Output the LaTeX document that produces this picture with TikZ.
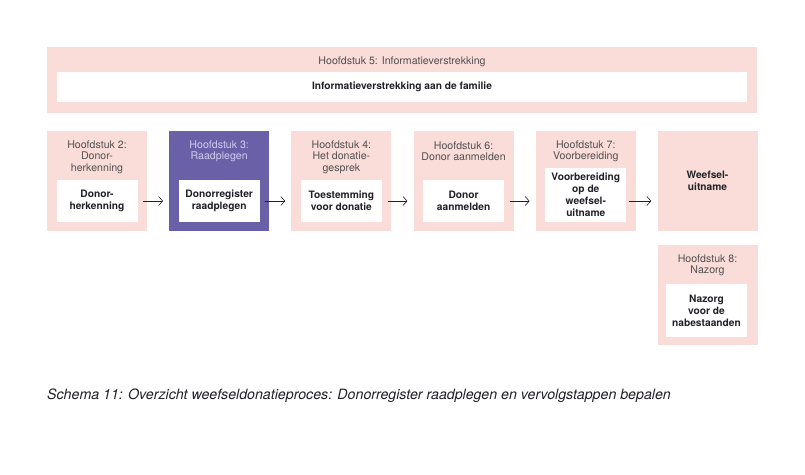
\documentclass[tikz,border=0pt]{standalone}
\usepackage{fontspec}
\setmainfont{TeX Gyre Heros}
\usetikzlibrary{arrows.meta}
\definecolor{pinkbg}{RGB}{250,220,216}
\definecolor{purp}{RGB}{106,96,168}
\definecolor{lav}{RGB}{208,203,238}
\definecolor{hdr}{RGB}{80,80,80}
\definecolor{dark}{RGB}{32,32,40}
\tikzset{
  chap/.style={fill=pinkbg, minimum width=100pt, minimum height=100pt, inner sep=0pt},
  purpchap/.style={chap, fill=purp},
  wbox/.style={fill=white, minimum width=81pt, minimum height=42pt, inner sep=0pt,
    font=\bfseries\fontsize{10.2}{12}\selectfont, text=dark, align=center},
  head/.style={font=\fontsize{10.6}{11.3}\selectfont, text=hdr, align=center, inner sep=0pt},
  arr/.style={-{Straight Barb[length=4pt,width=9pt]}, draw=dark, line width=0.6pt}
}
\begin{document}
\begin{tikzpicture}[x=1pt,y=-1pt]
\useasboundingbox[fill=white] (0,0) rectangle (805,474);
% top band
\node[fill=pinkbg, minimum width=710pt, minimum height=66pt, inner sep=0pt] (top) at (402,80) {};
\node[head] (toph) at (402,62) {Hoofdstuk 5: Informatieverstrekking};
\node[wbox, minimum width=690pt, minimum height=30pt] (topw) at (402,87) {Informatieverstrekking aan de familie};
% chapter boxes
\node[chap] (b1) at (97,181) {};
\node[purpchap] (b2) at (219.2,181) {};
\node[chap] (b3) at (341.4,181) {};
\node[chap] (b4) at (463.6,181) {};
\node[chap] (b5) at (585.8,181) {};
\node[chap, font=\bfseries\fontsize{10.2}{12}\selectfont, text=dark, align=center] (b6) at (707.5,181) {Weefsel-\\uitname};
\node[chap] (b8) at (707.5,294.5) {};
% headers
\node[head] (h1) at (97,157) {Hoofdstuk 2:\\Donor-\\herkenning};
\node[head, text=lav] (h2) at (219.2,151.5) {Hoofdstuk 3:\\Raadplegen};
\node[head] (h3) at (341.4,157) {Hoofdstuk 4:\\Het donatie-\\gesprek};
\node[head] (h4) at (463.6,151.5) {Hoofdstuk 6:\\Donor aanmelden};
\node[head] (h5) at (585.8,151.5) {Hoofdstuk 7:\\Voorbereiding};
\node[head] (h8) at (707.5,265) {Hoofdstuk 8:\\Nazorg};
% white inner boxes
\node[wbox] (w1) at (97,201) {Donor-\\herkenning};
\node[wbox] (w2) at (219.2,201) {Donorregister\\raadplegen};
\node[wbox] (w3) at (341.4,201) {Toestemming\\voor donatie};
\node[wbox] (w4) at (463.6,201) {Donor\\aanmelden};
\node[wbox, minimum height=54pt] (w5) at (585.8,195) {Voorbereiding\\op de\\weefsel-\\uitname};
\node[wbox, minimum height=53pt] (w8) at (706.5,310.5) {Nazorg\\voor de\\nabestaanden};
% arrows
\draw[arr] ([xshift=-4pt,yshift=-20pt]b1.east) -- ([xshift=-6pt,yshift=-20pt]b2.west);
\draw[arr] ([xshift=-4pt,yshift=-20pt]b2.east) -- ([xshift=-6pt,yshift=-20pt]b3.west);
\draw[arr] ([xshift=-4pt,yshift=-20pt]b3.east) -- ([xshift=-6pt,yshift=-20pt]b4.west);
\draw[arr] ([xshift=-4pt,yshift=-20pt]b4.east) -- ([xshift=-6pt,yshift=-20pt]b5.west);
\draw[arr] ([xshift=-7pt,yshift=-20pt]b5.east) -- ([xshift=-6pt,yshift=-20pt]b6.west);
% caption
\node[anchor=west, inner sep=0pt, font=\itshape\fontsize{14.2}{16}\selectfont, text=dark] (cap) at (47,396) {Schema 11: Overzicht weefseldonatieproces: Donorregister raadplegen en vervolgstappen bepalen};
\end{tikzpicture}
\end{document}
